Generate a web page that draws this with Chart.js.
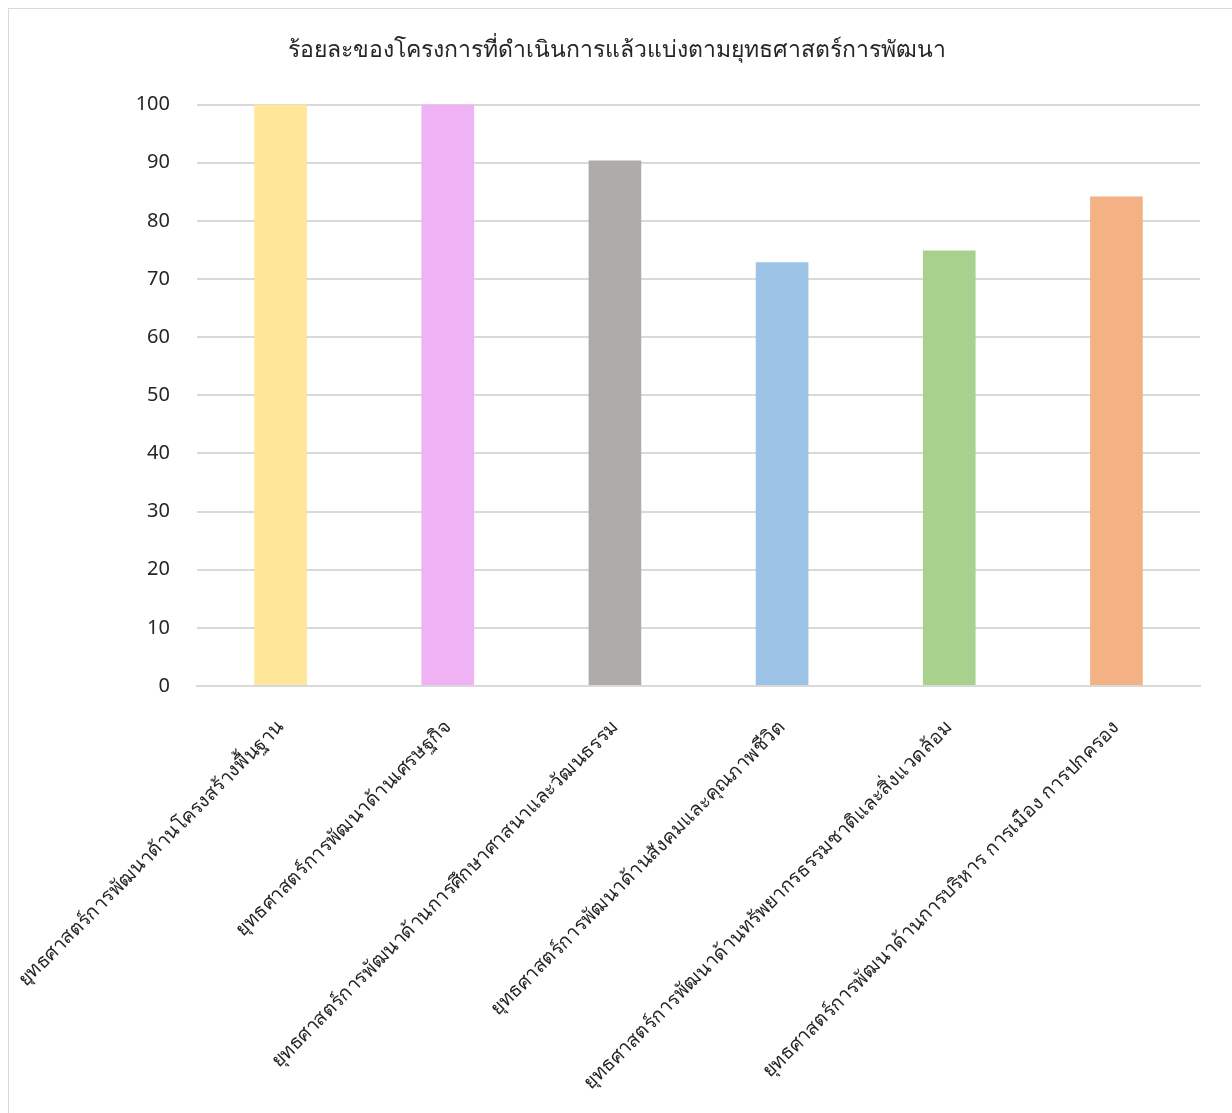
<!DOCTYPE html>
<html>
<head>
<meta charset="utf-8">
<script src="https://cdn.jsdelivr.net/npm/chart.js@4.4.0/dist/chart.umd.min.js"></script>
<style>
  html,body{margin:0;padding:0;background:#fff;}
  #wrap{position:absolute;left:8px;top:8px;width:1224px;height:1105px;border:1px solid #d9d9d9;border-right:none;border-bottom:none;box-sizing:border-box;}
  #chart{position:absolute;left:0;top:0;}
</style>
</head>
<body>
<div id="wrap"><canvas id="chart"></canvas></div>
<script>
// data
const categories = [
  'ยุทธศาสตร์การพัฒนาด้านโครงสร้างพื้นฐาน',
  'ยุทธศาสตร์การพัฒนาด้านเศรษฐกิจ',
  'ยุทธศาสตร์การพัฒนาด้านการศึกษาศาสนาและวัฒนธรรม',
  'ยุทธศาสตร์การพัฒนาด้านสังคมและคุณภาพชีวิต',
  'ยุทธศาสตร์การพัฒนาด้านทรัพยากรธรรมชาติและสิ่งแวดล้อม',
  'ยุทธศาสตร์การพัฒนาด้านการบริหาร การเมือง การปกครอง'
];
const percentDone = [100, 100, 90.4, 72.9, 74.9, 84.2];
const barColors = ['#ffe699', '#efb3f5', '#afabab', '#9dc3e6', '#a9d18e', '#f4b183'];
const chartTitle = 'ร้อยละของโครงการที่ดำเนินการแล้วแบ่งตามยุทธศาสตร์การพัฒนา';

(function(){
  const canvas = document.getElementById('chart');
  const W = 1223, H = 1104;
  canvas.width = W; canvas.height = H;
  canvas.style.width = W + 'px'; canvas.style.height = H + 'px';
  const FONT = '"Noto Sans", "DejaVu Sans", sans-serif';
  // canvas origin is at page (9,9); plot area in page: x 197..1200, y 105..686
  const Y_AXIS_W = 188, X_AXIS_H = H - 677;
  try{
    new Chart(canvas.getContext('2d'), {
      type: 'bar',
      data: { labels: categories, datasets: [{ data: percentDone, backgroundColor: barColors, barPercentage: 0.63, categoryPercentage: 0.5 }] },
      options: {
        responsive: false,
        animation: false,
        layout: { padding: { left: 0, right: 8, top: 0, bottom: 0 } },
        plugins: {
          legend: { display: false },
          tooltip: { enabled: false },
          title: { display: true, text: chartTitle, color: '#262626', font: { family: FONT, size: 23, weight: 'normal' }, padding: { top: 28, bottom: 40 } }
        },
        scales: {
          x: {
            grid: { display: false },
            border: { color: '#d9d9d9', width: 2 },
            ticks: { color: '#262626', font: { family: FONT, size: 19.5 }, minRotation: 45, maxRotation: 45, autoSkip: false, padding: 22 },
            afterFit: s => { s.height = X_AXIS_H; s.paddingLeft = 0; s.paddingRight = 0; }
          },
          y: {
            min: 0, max: 100,
            grid: { color: '#d9d9d9', lineWidth: 2, drawTicks: false },
            border: { display: false },
            ticks: { stepSize: 10, color: '#262626', font: { family: FONT, size: 20 }, padding: 27 },
            afterFit: s => { s.width = Y_AXIS_W; }
          },
          // empty right-side spacer so the plot ends where the reference's does
          yPad: {
            position: 'right',
            grid: { display: false },
            border: { display: false },
            ticks: { display: false },
            afterFit: s => { s.width = 24; }
          }
        }
      }
    });
  }catch(e){ console.error('chart render', e); }
})();
</script>
</body>
</html>
